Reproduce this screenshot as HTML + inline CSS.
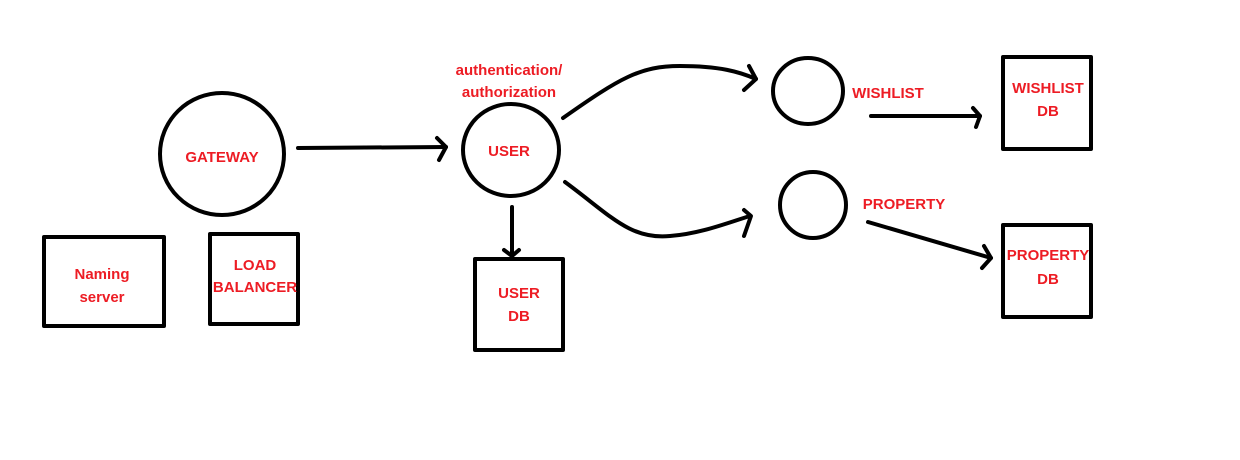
<!DOCTYPE html>
<html><head><style>
html,body{margin:0;padding:0;background:#fff;}
svg{display:block}
text{font-family:"Liberation Sans",sans-serif;font-weight:bold;font-size:15px;fill:#ed1c24;text-anchor:middle}
</style></head><body>
<svg width="1240" height="460" viewBox="0 0 1240 460">
<g fill="none" stroke="#000" stroke-width="4" stroke-linecap="round" stroke-linejoin="round">
<ellipse cx="222" cy="154" rx="62" ry="61"/>
<ellipse cx="511" cy="150" rx="48" ry="46"/>
<ellipse cx="808" cy="91" rx="35" ry="33"/>
<ellipse cx="813" cy="205" rx="33" ry="33"/>
<rect x="44" y="237" width="120" height="89"/>
<rect x="210" y="234" width="88" height="90"/>
<rect x="475" y="259" width="88" height="91"/>
<rect x="1003" y="57" width="88" height="92"/>
<rect x="1003" y="225" width="88" height="92"/>
<path d="M298 148 L446 147"/><path d="M437 138 L446 147 L439 160"/>
<path d="M512 207 L512 254"/><path d="M504 250 L512 256 L519 250"/>
<path d="M563 118 C620 78 640 66 680 66 C720 66 740 72 756 79"/><path d="M749 66 L756 79 L744 90"/>
<path d="M565 182 C610 215 630 240 670 236 C700 234 730 222 750 216"/><path d="M744 210 L751 216 L744 236"/>
<path d="M871 116 L980 116"/><path d="M973 108 L980 116 L976 127"/>
<path d="M868 222 L991 258"/><path d="M984 246 L991 258 L982 268"/>
</g>
<text x="222" y="162">GATEWAY</text>
<text x="509" y="156">USER</text>
<text x="509" y="75">authentication/</text>
<text x="509" y="97">authorization</text>
<text x="888" y="98">WISHLIST</text>
<text x="904" y="209">PROPERTY</text>
<text x="102" y="279">Naming</text>
<text x="102" y="302">server</text>
<text x="255" y="270">LOAD</text>
<text x="255" y="292">BALANCER</text>
<text x="519" y="298">USER</text>
<text x="519" y="321">DB</text>
<text x="1048" y="93">WISHLIST</text>
<text x="1048" y="116">DB</text>
<text x="1048" y="260">PROPERTY</text>
<text x="1048" y="284">DB</text>
</svg>
</body></html>
